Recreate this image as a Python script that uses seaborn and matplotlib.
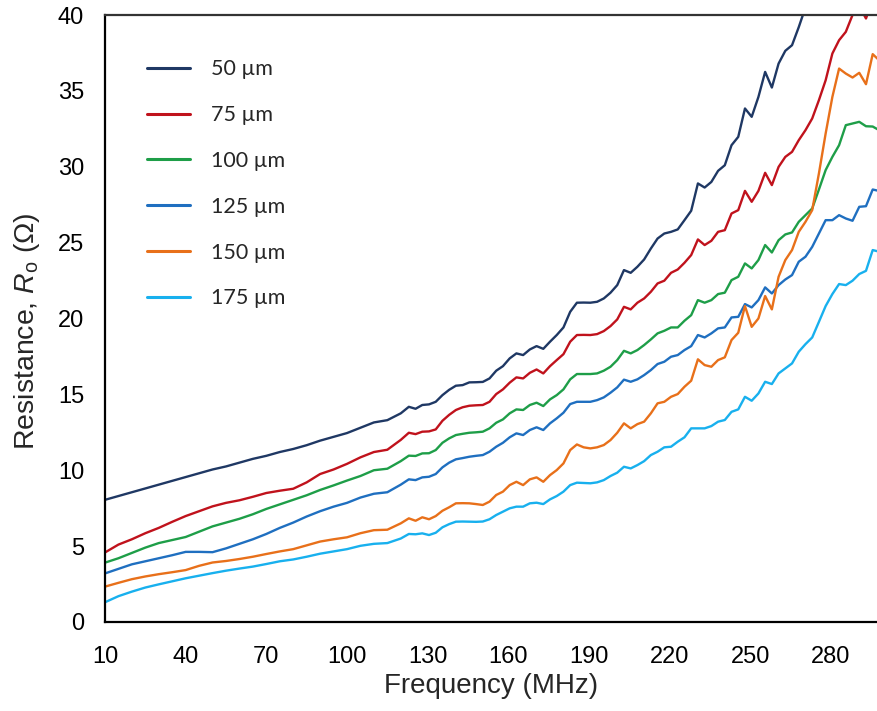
import numpy as np
import pandas as pd
import matplotlib
matplotlib.use('Agg')
import matplotlib.pyplot as plt
import seaborn as sns

# frequency grid (MHz): coarse at low end, finer where the curves get jagged
freq_low = [10, 15, 20, 25, 30, 35, 40, 45, 50, 55, 60, 65, 70, 75, 80, 85,
            90, 95, 100, 105, 110, 115, 120]
freq_high = [123, 125.5, 128, 130.5, 133, 135.5, 138, 140.5, 143, 145.5,
             148, 150.5, 153, 155.5, 158, 160.5, 163, 165.5, 168, 170.5,
             173, 175.5, 178, 180.5, 183, 185.5, 188, 190.5, 193, 195.5,
             198, 200.5, 203, 205.5, 208, 210.5, 213, 215.5, 218, 220.5,
             223, 225.5, 228, 230.5, 233, 235.5, 238, 240.5, 243, 245.5,
             248, 250.5, 253, 255.5, 258, 260.5, 263, 265.5, 268, 270.5,
             273, 275.5, 278, 280.5, 283, 285.5, 288, 290.5, 293, 295.5, 298]
freq = freq_low + freq_high

nan = np.nan

r_50 = [8.05, 8.3, 8.55, 8.8, 9.05, 9.3, 9.55, 9.8, 10.05, 10.25, 10.5, 10.75,
        10.95, 11.2, 11.4, 11.65, 11.95, 12.2, 12.45, 12.8, 13.15, 13.3, 13.75,
        14.18, 14.05, 14.3, 14.34, 14.51, 14.95, 15.3, 15.57, 15.61, 15.79,
        15.8, 15.82, 16.05, 16.56, 16.86, 17.37, 17.7, 17.59, 17.96, 18.18,
        18.0, 18.47, 18.91, 19.41, 20.44, 21.04, 21.05, 21.04, 21.1, 21.32,
        21.7, 22.2, 23.19, 23.01, 23.41, 23.89, 24.61, 25.27, 25.6, 25.71,
        25.87, 26.48, 27.1, 28.9, 28.63, 29.0, 29.73, 30.1, 31.42, 31.97,
        33.84, 33.29, 34.6, 36.25, 35.22, 36.8, 37.64, 38.01, 39.2, 40.5,
        41.8, 43.0, nan, nan, nan, nan, nan, nan, nan, nan, nan]

r_75 = [4.58, 5.1, 5.45, 5.85, 6.2, 6.6, 6.98, 7.3, 7.62, 7.85, 8.02, 8.25,
        8.5, 8.65, 8.78, 9.2, 9.75, 10.05, 10.42, 10.85, 11.2, 11.35, 12.0,
        12.47, 12.38, 12.54, 12.56, 12.69, 13.26, 13.65, 13.97, 14.15, 14.25,
        14.28, 14.3, 14.51, 15.02, 15.33, 15.77, 16.12, 16.05, 16.42, 16.64,
        16.38, 16.86, 17.26, 17.65, 18.47, 18.91, 18.92, 18.91, 18.97, 19.17,
        19.5, 19.94, 20.77, 20.6, 21.04, 21.32, 21.76, 22.31, 22.49, 23.01,
        23.23, 23.67, 24.18, 25.21, 24.84, 25.12, 25.71, 25.82, 26.92, 27.14,
        28.41, 27.69, 28.41, 29.6, 28.79, 29.99, 30.65, 30.98, 31.75, 32.41,
        33.18, 34.39, 35.7, 37.46, 38.34, 38.89, 40.0, 40.6, 39.77, 41.0, 42.0]

r_100 = [3.91, 4.2, 4.55, 4.9, 5.2, 5.4, 5.6, 5.95, 6.3, 6.55, 6.8, 7.1,
         7.45, 7.75, 8.05, 8.35, 8.7, 9.0, 9.32, 9.62, 10.0, 10.1, 10.6,
         10.96, 10.94, 11.11, 11.12, 11.33, 11.81, 12.1, 12.32, 12.4, 12.47,
         12.5, 12.54, 12.76, 13.13, 13.35, 13.75, 14.01, 13.97, 14.3, 14.45,
         14.23, 14.67, 14.95, 15.33, 15.99, 16.34, 16.34, 16.34, 16.38, 16.56,
         16.82, 17.26, 17.87, 17.7, 17.92, 18.25, 18.62, 19.02, 19.19, 19.41,
         19.41, 19.85, 20.22, 21.21, 21.04, 21.21, 21.61, 21.7, 22.53, 22.75,
         23.63, 23.3, 23.85, 24.84, 24.35, 25.16, 25.54, 25.67, 26.37, 26.81,
         27.25, 28.5, 29.78, 30.65, 31.42, 32.74, 32.85, 32.96, 32.67, 32.65, 32.4]

r_125 = [3.2, 3.5, 3.8, 4.0, 4.2, 4.4, 4.62, 4.62, 4.6, 4.85, 5.15, 5.45,
         5.8, 6.2, 6.55, 6.95, 7.3, 7.6, 7.85, 8.2, 8.45, 8.55, 9.05,
         9.4, 9.35, 9.53, 9.57, 9.75, 10.19, 10.5, 10.72, 10.8, 10.89,
         10.95, 11.0, 11.22, 11.55, 11.81, 12.17, 12.43, 12.32, 12.65, 12.83,
         12.65, 13.09, 13.42, 13.79, 14.36, 14.51, 14.51, 14.51, 14.62, 14.8,
         15.11, 15.46, 15.97, 15.83, 15.99, 16.27, 16.6, 17.0, 17.15, 17.48,
         17.59, 17.92, 18.18, 18.91, 18.75, 19.02, 19.35, 19.41, 20.07, 20.11,
         20.95, 20.73, 21.21, 22.05, 21.65, 22.2, 22.57, 22.86, 23.74, 24.07,
         24.72, 25.6, 26.48, 26.48, 26.81, 26.59, 26.44, 27.36, 27.4, 28.5, 28.4]

r_150 = [2.33, 2.58, 2.82, 3.0, 3.15, 3.28, 3.42, 3.7, 3.92, 4.02, 4.15, 4.3,
         4.48, 4.65, 4.8, 5.05, 5.3, 5.45, 5.58, 5.85, 6.05, 6.08, 6.5,
         6.83, 6.67, 6.9, 6.77, 6.98, 7.33, 7.56, 7.82, 7.83, 7.82,
         7.77, 7.71, 7.93, 8.37, 8.59, 9.02, 9.24, 9.02, 9.4, 9.53,
         9.24, 9.68, 10.01, 10.45, 11.33, 11.7, 11.51, 11.44, 11.51, 11.66,
         11.99, 12.47, 13.09, 12.76, 13.04, 13.2, 13.75, 14.41, 14.51, 14.84,
         15.02, 15.5, 15.9, 17.31, 16.93, 16.82, 17.26, 17.44, 18.58, 19.06,
         20.82, 19.45, 20.0, 21.48, 20.6, 22.75, 23.85, 24.51, 25.71, 26.37,
         27.14, 29.56, 32.19, 34.6, 36.47, 36.14, 35.88, 36.19, 35.44, 37.42, 37.0]

r_175 = [1.3, 1.7, 2.0, 2.27, 2.48, 2.68, 2.88, 3.05, 3.22, 3.38, 3.52, 3.65,
         3.82, 4.0, 4.12, 4.3, 4.5, 4.65, 4.8, 5.02, 5.15, 5.2, 5.5,
         5.8, 5.78, 5.84, 5.73, 5.88, 6.24, 6.45, 6.61, 6.62, 6.61,
         6.6, 6.62, 6.77, 7.05, 7.27, 7.49, 7.6, 7.6, 7.82, 7.86,
         7.77, 8.08, 8.3, 8.59, 9.02, 9.18, 9.16, 9.14, 9.2, 9.35,
         9.62, 9.84, 10.23, 10.12, 10.34, 10.6, 11.0, 11.22, 11.51, 11.55,
         11.88, 12.17, 12.76, 12.76, 12.76, 12.91, 13.2, 13.31, 13.85, 14.01,
         14.84, 14.58, 15.06, 15.83, 15.68, 16.38, 16.71, 17.04, 17.81, 18.31,
         18.75, 19.78, 20.82, 21.61, 22.27, 22.2, 22.49, 22.93, 23.14, 24.51, 24.4]

widths = ['50 µm', '75 µm', '100 µm', '125 µm', '150 µm', '175 µm']
series = [r_50, r_75, r_100, r_125, r_150, r_175]
colors = ['#1F3864', '#C0121C', '#1E9E48', '#1F6FC0', '#E8701A', '#18B0EE']

df = pd.concat(
    [pd.DataFrame({'Frequency': freq, 'Resistance': vals, 'Width': w})
     for w, vals in zip(widths, series)],
    ignore_index=True,
)

sns.set_style('white')
plt.rcParams['font.family'] = ['Liberation Sans', 'DejaVu Sans']
plt.rcParams['mathtext.fontset'] = 'custom'
plt.rcParams['mathtext.rm'] = 'Liberation Sans'
plt.rcParams['mathtext.it'] = 'Liberation Sans:italic'

fig = plt.figure(figsize=(8.77, 7.11), dpi=100)
ax = fig.add_axes([0.1197, 0.1252, 0.880, 0.8537])

sns.lineplot(data=df, x='Frequency', y='Resistance', hue='Width',
             hue_order=widths, palette=colors, estimator=None, errorbar=None,
             linewidth=1.7, ax=ax)

ax.set_xlim(10, 297)
ax.set_ylim(0, 40)
ax.set_xticks([10, 40, 70, 100, 130, 160, 190, 220, 250, 280])
ax.set_yticks([0, 5, 10, 15, 20, 25, 30, 35, 40])

for side in ['left', 'bottom']:
    ax.spines[side].set_color('black')
    ax.spines[side].set_linewidth(1.6)
ax.spines['top'].set_color('#333333')
ax.spines['top'].set_linewidth(1.6)
ax.spines['right'].set_visible(False)

ax.tick_params(axis='x', direction='out', length=5, width=1, color='#999999',
               pad=12, labelsize=17, labelcolor='black')
ax.tick_params(axis='y', direction='out', length=5, width=1, color='#999999',
               pad=10, labelsize=17, labelcolor='black')

ax.set_xlabel('Frequency (MHz)', fontsize=20, labelpad=4)
ax.set_ylabel(r'Resistance, $R_\mathrm{o}$ (Ω)', fontsize=20.5)
# label anchor is its right edge (rotated text), about 42 px from the figure edge
ax.yaxis.set_label_coords(-0.0816, 0.479)

leg = ax.legend(loc='upper left', bbox_to_anchor=(0.055, 0.927), frameon=False,
                borderaxespad=0, borderpad=0, handlelength=2.0,
                handletextpad=0.95, labelspacing=1.2,
                prop={'family': 'Lato', 'size': 15.5})
for line in leg.get_lines():
    line.set_linewidth(2.2)

fig.savefig('out.png', dpi=100)
